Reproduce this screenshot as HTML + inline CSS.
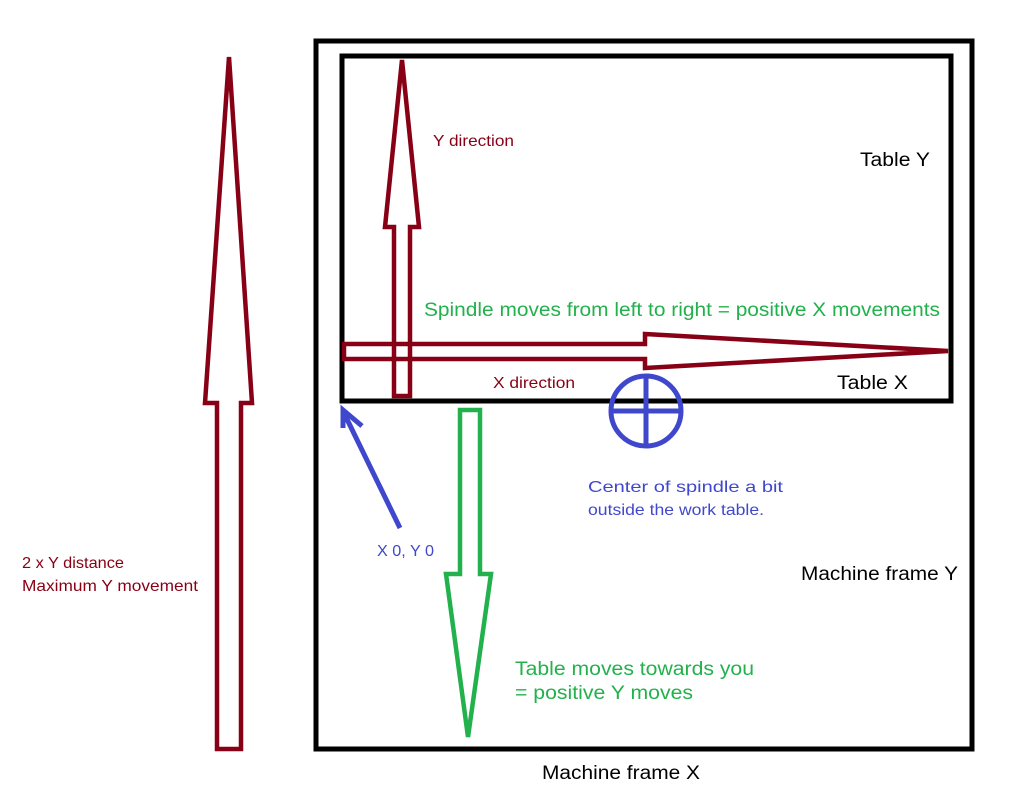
<!DOCTYPE html>
<html><head><style>
body{margin:0;background:#fff;width:1034px;height:800px;overflow:hidden}
svg{position:absolute;left:0;top:0}
text{font-family:"Liberation Sans","DejaVu Sans",sans-serif}
</style></head><body>
<svg width="1034" height="800" viewBox="0 0 1034 800">
<rect x="316" y="41" width="656" height="708" fill="none" stroke="#000" stroke-width="5"/>
<rect x="342" y="56" width="609" height="345" fill="none" stroke="#000" stroke-width="5"/>
<g fill="none" stroke="#880015" stroke-width="4.5" stroke-linejoin="miter">
<polygon points="229,57 252,403 241,403 241,749 217,749 217,403 205,403"/>
<polygon points="402,60 419,227 410,227 410,396 394,396 394,227 385,227"/>
<polygon points="344,344 645,344 645,334 948,351 645,368 645,359 344,359"/>
</g>
<polygon points="460,410 480,410 480,574 491,574 468,737 446,574 460,574" fill="none" stroke="#22b14c" stroke-width="4.5"/>
<g fill="none" stroke="#3f48cc" stroke-width="5">
<circle cx="646" cy="411" r="35"/>
<line x1="611" y1="411" x2="683" y2="411"/>
<line x1="646" y1="375" x2="646" y2="448"/>
<line x1="400" y1="528" x2="343" y2="411"/>
<polyline points="343,428 343,410 362,426"/>
</g>
<g lengthAdjust="spacingAndGlyphs">
<text x="433" y="146" fill="#880015" font-size="16" textLength="81" lengthAdjust="spacingAndGlyphs">Y direction</text>
<text x="860" y="166" fill="#000" font-size="19" textLength="70" lengthAdjust="spacingAndGlyphs">Table Y</text>
<text x="424" y="316" fill="#22b14c" font-size="19" textLength="516" lengthAdjust="spacingAndGlyphs">Spindle moves from left to right = positive X movements</text>
<text x="493" y="388" fill="#880015" font-size="16" textLength="82" lengthAdjust="spacingAndGlyphs">X direction</text>
<text x="837" y="389" fill="#000" font-size="19" textLength="71" lengthAdjust="spacingAndGlyphs">Table X</text>
<text x="588" y="492" fill="#3f48cc" font-size="16" textLength="195" lengthAdjust="spacingAndGlyphs">Center of spindle a bit</text>
<text x="588" y="515" fill="#3f48cc" font-size="16" textLength="176" lengthAdjust="spacingAndGlyphs">outside the work table.</text>
<text x="377" y="556" fill="#3f48cc" font-size="16" textLength="57" lengthAdjust="spacingAndGlyphs">X 0, Y 0</text>
<text x="22" y="568" fill="#880015" font-size="16" textLength="102" lengthAdjust="spacingAndGlyphs">2 x Y distance</text>
<text x="22" y="591" fill="#880015" font-size="16" textLength="176" lengthAdjust="spacingAndGlyphs">Maximum Y movement</text>
<text x="801" y="580" fill="#000" font-size="19" textLength="157" lengthAdjust="spacingAndGlyphs">Machine frame Y</text>
<text x="515" y="675" fill="#22b14c" font-size="19" textLength="239" lengthAdjust="spacingAndGlyphs">Table moves towards you</text>
<text x="515" y="699" fill="#22b14c" font-size="19" textLength="178" lengthAdjust="spacingAndGlyphs">= positive Y moves</text>
<text x="542" y="779" fill="#000" font-size="19" textLength="158" lengthAdjust="spacingAndGlyphs">Machine frame X</text>
</g>
</svg>
</body></html>
